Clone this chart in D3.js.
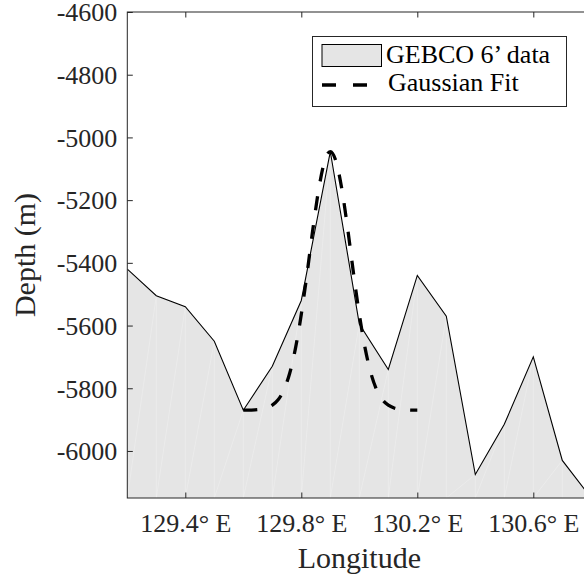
<!DOCTYPE html>
<html>
<head>
<meta charset="utf-8">
<script src="https://cdn.jsdelivr.net/npm/d3@7"></script>
<style>
  html, body { margin: 0; padding: 0; background: #fff; }
  svg { display: block; }
  svg text { font-family: "Liberation Serif", "DejaVu Serif", "Noto Serif", serif; }
</style>
</head>
<body>
<svg id="chart" width="584" height="579"></svg>
<script>
// Bathymetric profile along the section (GEBCO 6' grid, 0.1° spacing)
const longitude = [129.2, 129.3, 129.4, 129.5, 129.6, 129.7, 129.8, 129.9, 130.0,
                   130.1, 130.2, 130.3, 130.4, 130.5, 130.6, 130.7, 130.8];
const depth = [-5420, -5505, -5540, -5650, -5870, -5730, -5520, -5045, -5595,
               -5740, -5440, -5570, -6075, -5915, -5700, -6030, -6150];

// Gaussian fit to the seamount peak
const fitLongitude = [129.60, 129.62, 129.64, 129.66, 129.68, 129.70, 129.72, 129.74,
                      129.76, 129.78, 129.80, 129.82, 129.84, 129.86, 129.88, 129.90,
                      129.92, 129.94, 129.96, 129.98, 130.00, 130.02, 130.04, 130.06,
                      130.08, 130.10, 130.12, 130.14, 130.16, 130.18, 130.20];
const fitDepth = [-5870, -5870, -5869, -5867, -5863, -5854, -5837, -5805,
                  -5752, -5672, -5564, -5433, -5292, -5166, -5077, -5045,
                  -5077, -5166, -5292, -5433, -5564, -5672, -5752, -5805,
                  -5837, -5854, -5863, -5867, -5869, -5870, -5870];

const xTicks = [129.4, 129.8, 130.2, 130.6];
const xTickLabels = ["129.4° E", "129.8° E", "130.2° E", "130.6° E"];
const yTicks = [-4600, -4800, -5000, -5200, -5400, -5600, -5800, -6000];
const yTickLabels = ["-4600", "-4800", "-5000", "-5200", "-5400", "-5600", "-5800", "-6000"];
const legendLabels = ["GEBCO 6’ data", "Gaussian Fit"];

const axisColor = "#262626";
const fillColor = "#e5e5e5";
const serif = "'Liberation Serif', 'DejaVu Serif', 'Noto Serif', serif";

const svg = d3.select("#chart");
const plot = { left: 127.3, top: 12, width: 464, height: 486 };

const x = d3.scaleLinear().domain([129.2, 130.8]).range([plot.left, plot.left + plot.width]);
const y = d3.scaleLinear().domain([-6150, -4600]).range([plot.top + plot.height, plot.top]);

const profile = longitude.map((lon, i) => ({ lon, d: depth[i] }));
const fit = fitLongitude.map((lon, i) => ({ lon, d: fitDepth[i] }));

svg.append("defs").append("clipPath").attr("id", "plot-clip")
  .append("rect")
  .attr("x", plot.left).attr("y", plot.top)
  .attr("width", plot.width).attr("height", plot.height);

const g = svg.append("g").attr("clip-path", "url(#plot-clip)");
const yBase = y.domain()[0];

// Filled profile
g.append("path")
  .datum(profile)
  .attr("fill", fillColor)
  .attr("stroke", "none")
  .attr("d", d3.area().x(p => x(p.lon)).y0(y(yBase)).y1(p => y(p.d)));

// Faint seams of the filled patch
const seams = g.append("g").attr("stroke", "#ffffff").attr("stroke-opacity", 0.3).attr("stroke-width", 0.8);
profile.forEach((p, i) => {
  seams.append("line")
    .attr("x1", x(p.lon)).attr("y1", y(p.d))
    .attr("x2", x(p.lon)).attr("y2", y(yBase));
  if (i > 0) {
    seams.append("line")
      .attr("x1", x(p.lon)).attr("y1", y(p.d))
      .attr("x2", x(profile[i - 1].lon)).attr("y2", y(yBase));
  }
});

// Profile outline
g.append("path")
  .datum(profile)
  .attr("fill", "none")
  .attr("stroke", "#000")
  .attr("stroke-width", 1.1)
  .attr("stroke-linejoin", "miter")
  .attr("d", d3.line().x(p => x(p.lon)).y(p => y(p.d)));

// Gaussian fit
g.append("path")
  .datum(fit)
  .attr("fill", "none")
  .attr("stroke", "#000")
  .attr("stroke-width", 3.3)
  .attr("stroke-dasharray", "14,15")
  .attr("d", d3.line().curve(d3.curveMonotoneX).x(p => x(p.lon)).y(p => y(p.d)));

// Axes box
svg.append("rect")
  .attr("x", plot.left).attr("y", plot.top)
  .attr("width", plot.width).attr("height", plot.height)
  .attr("fill", "none").attr("stroke", axisColor).attr("stroke-width", 1);

const tickLen = 5.5;
const axisBottomG = svg.append("g")
  .attr("transform", `translate(0,${plot.top + plot.height})`)
  .call(d3.axisBottom(x).tickValues(xTicks).tickSizeInner(-tickLen).tickSizeOuter(0)
        .tickPadding(16).tickFormat((d, i) => xTickLabels[i]));
const axisTopG = svg.append("g")
  .attr("transform", `translate(0,${plot.top})`)
  .call(d3.axisTop(x).tickValues(xTicks).tickSizeInner(-tickLen).tickSizeOuter(0).tickFormat(() => ""));
const axisLeftG = svg.append("g")
  .attr("transform", `translate(${plot.left},0)`)
  .call(d3.axisLeft(y).tickValues(yTicks).tickSizeInner(-tickLen).tickSizeOuter(0)
        .tickPadding(10).tickFormat((d, i) => yTickLabels[i]));
const axisRightG = svg.append("g")
  .attr("transform", `translate(${plot.left + plot.width},0)`)
  .call(d3.axisRight(y).tickValues(yTicks).tickSizeInner(-tickLen).tickSizeOuter(0).tickFormat(() => ""));

[axisBottomG, axisTopG, axisLeftG, axisRightG].forEach(a => {
  a.attr("font-family", serif).attr("font-size", 26);
  a.select(".domain").remove();
  a.selectAll(".tick line").attr("stroke", axisColor).attr("stroke-width", 1);
  a.selectAll(".tick text").attr("fill", axisColor);
});
axisBottomG.selectAll(".tick text").attr("dy", "0.71em");
axisLeftG.selectAll(".tick text").attr("dy", "0.34em");

// Axis titles
svg.append("text")
  .attr("x", plot.left + plot.width / 2).attr("y", 568)
  .attr("text-anchor", "middle")
  .attr("fill", axisColor)
  .attr("font-size", 30)
  .text("Longitude");

svg.append("text")
  .attr("transform", `translate(35,${plot.top + plot.height / 2}) rotate(-90)`)
  .attr("text-anchor", "middle")
  .attr("fill", axisColor)
  .attr("font-size", 30)
  .text("Depth (m)");

// Legend
const legend = svg.append("g");
legend.append("rect")
  .attr("x", 312.5).attr("y", 36.5).attr("width", 254).attr("height", 70)
  .attr("fill", "#fff").attr("stroke", axisColor).attr("stroke-width", 1);
legend.append("rect")
  .attr("x", 322).attr("y", 44.5).attr("width", 59.5).attr("height", 22)
  .attr("fill", fillColor).attr("stroke", "#000").attr("stroke-width", 1);
legend.append("text")
  .attr("x", 386).attr("y", 63)
  .attr("fill", "#000").attr("font-size", 26)
  .text(legendLabels[0]);
legend.append("line")
  .attr("x1", 322).attr("x2", 367).attr("y1", 85).attr("y2", 85)
  .attr("stroke", "#000").attr("stroke-width", 3.3).attr("stroke-dasharray", "14,17");
legend.append("text")
  .attr("x", 388).attr("y", 91)
  .attr("fill", "#000").attr("font-size", 26)
  .text(legendLabels[1]);
</script>
</body>
</html>
